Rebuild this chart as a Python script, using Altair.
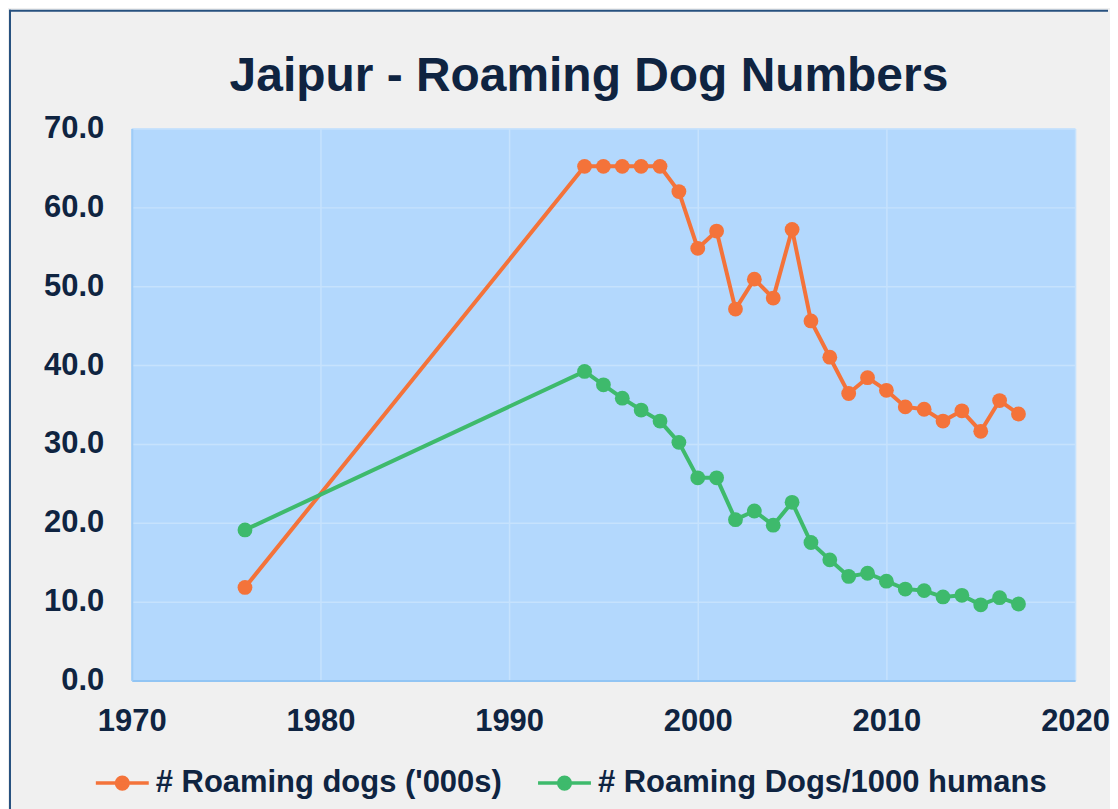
import altair as alt
import pandas as pd

title_text = "Jaipur - Roaming Dog Numbers"
series_names = ["# Roaming dogs ('000s)", "# Roaming Dogs/1000 humans"]
series_colors = ["#F4733A", "#3EBA6C"]

years = [1976, 1994, 1995, 1996, 1997, 1998, 1999, 2000, 2001, 2002, 2003, 2004,
         2005, 2006, 2007, 2008, 2009, 2010, 2011, 2012, 2013, 2014, 2015, 2016, 2017]
dogs_000s = [11.8, 65.2, 65.2, 65.2, 65.2, 65.2, 62.0, 54.8, 57.0, 47.1, 50.9, 48.5,
             57.2, 45.6, 41.0, 36.4, 38.4, 36.8, 34.7, 34.4, 32.9, 34.2, 31.6, 35.5, 33.8]
dogs_per_1000 = [19.1, 39.2, 37.5, 35.8, 34.3, 32.9, 30.2, 25.7, 25.7, 20.4, 21.5, 19.7,
                 22.6, 17.5, 15.3, 13.2, 13.6, 12.6, 11.6, 11.4, 10.6, 10.8, 9.6, 10.5, 9.7]

x_ticks = [1970, 1980, 1990, 2000, 2010, 2020]
y_ticks = [0, 10, 20, 30, 40, 50, 60, 70]

rows = []
for y, v in zip(years, dogs_000s):
    rows.append({"year": y, "value": v, "series": series_names[0]})
for y, v in zip(years, dogs_per_1000):
    rows.append({"year": y, "value": v, "series": series_names[1]})
df = pd.DataFrame(rows)

TEXT = "#0F2441"
FONT = "Liberation Sans"
W, H = 945, 553
BORDER = "#27517F"

legend_path = ("M-1,0L1,0M0.22,0A0.22,0.22,0,1,1,-0.22,0A0.22,0.22,0,1,1,0.22,0Z")

lines = alt.Chart(df).mark_line(
    strokeWidth=4,
    point=alt.OverlayMarkDef(filled=True, size=220, opacity=1),
).encode(
    x=alt.X("year:Q",
            scale=alt.Scale(domain=[1970, 2020], nice=False, zero=False),
            axis=alt.Axis(values=x_ticks, format="d", title=None,
                          labelPadding=26, labelFontSize=31, labelFont=FONT,
                          labelFontWeight="bold", labelColor=TEXT,
                          ticks=False, domainColor="#92C5F4", domainWidth=2,
                          gridColor="#C6E2FD", gridWidth=1.5,
                          labelOverlap=False, labelBound=False, labelFlush=False)),
    y=alt.Y("value:Q",
            scale=alt.Scale(domain=[0, 70], nice=False),
            axis=alt.Axis(values=y_ticks, format=".1f", title=None,
                          labelPadding=28, labelFontSize=31, labelFont=FONT,
                          labelFontWeight="bold", labelColor=TEXT,
                          ticks=False, domainColor="#9ECCF7", domainWidth=2,
                          gridColor="#C6E2FD", gridWidth=1.5,
                          labelOverlap=False, labelBound=False, labelFlush=False)),
    color=alt.Color("series:N",
                    scale=alt.Scale(domain=series_names, range=series_colors),
                    sort=series_names,
                    legend=alt.Legend(title=None, orient="none", direction="horizontal",
                                      legendX=-38, legendY=627, padding=0,
                                      symbolType=legend_path, symbolSize=2809,
                                      symbolStrokeWidth=3.5, labelFontSize=31,
                                      labelFont=FONT, labelFontWeight="bold",
                                      labelColor=TEXT, labelOffset=5,
                                      columnPadding=29, labelLimit=600)),
)

title_df = pd.DataFrame({"t": [title_text]})
title = alt.Chart(title_df).mark_text(
    font=FONT, fontSize=48, fontWeight="bold", color=TEXT,
    align="center", baseline="alphabetic",
).encode(text="t:N", x=alt.value(458), y=alt.value(-38))

# outer frame: only the left and top edges are visible in the window
left_edge = alt.Chart(title_df).mark_rule(
    stroke=BORDER, strokeWidth=2, strokeCap="butt",
).encode(x=alt.value(-122), y=alt.value(-119), y2=alt.value(692))
top_edge = alt.Chart(title_df).mark_rule(
    stroke=BORDER, strokeWidth=2, strokeCap="butt",
).encode(y=alt.value(-118), x=alt.value(-123), x2=alt.value(978))

chart = alt.layer(lines, title, left_edge, top_edge).properties(
    width=W, height=H, background="#F0F0F0", padding=0,
).configure_view(
    fill="#B3D8FD", stroke=None,
)

chart.save("out.html", embed_options={"renderer": "svg", "actions": False})
